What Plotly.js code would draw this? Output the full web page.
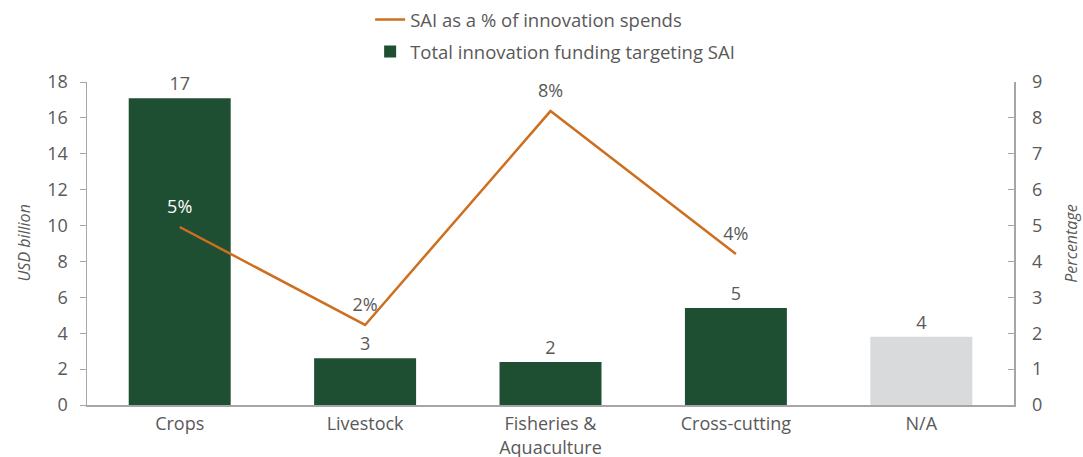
<!DOCTYPE html>
<html><head><meta charset="utf-8">
<script src="https://cdn.plot.ly/plotly-3.0.1.min.js"></script>
<style>body{margin:0;background:#fff}#c{width:1083px;height:457px}</style>
</head><body><div id="c"></div>
<script>
const categories = ["Crops", "Livestock", "Fisheries &<br>Aquaculture", "Cross-cutting", "N/A"];
const fundingUSDbn = [17.1, 2.6, 2.4, 5.4, 3.8];
const fundingLabels = ["17", "3", "2", "5", "4"];
const barColors = ["#1F4F33", "#1F4F33", "#1F4F33", "#1F4F33", "#D9DADC"];
const lineCategories = ["Crops", "Livestock", "Fisheries &<br>Aquaculture", "Cross-cutting"];
const saiPct = [4.96, 2.23, 8.19, 4.21];
const saiLabels = ["5%", "2%", "8%", "4%"];
const saiLabelColors = ["#FFFFFF", "#595959", "#595959", "#595959"];

const grey = "#595959";
const traces = [
  {
    type: "scatter", mode: "lines+markers+text", name: "SAI as a % of innovation spends",
    x: lineCategories, y: saiPct, yaxis: "y2",
    text: saiLabels, textposition: "top center",
    textfont: {size: 18, color: saiLabelColors, family: "Open Sans"},
    line: {color: "#CD6F1F", width: 2.5},
    marker: {size: 14, color: "rgba(0,0,0,0)"},
    cliponaxis: false, legendgroup: "a"
  },
  {
    type: "bar", name: "Total innovation funding targeting SAI",
    x: categories, y: fundingUSDbn,
    text: fundingLabels, textposition: "outside",
    textfont: {size: 18, color: grey, family: "Open Sans"},
    marker: {color: barColors}, width: 0.55,
    cliponaxis: false, legendgroup: "b"
  }
];
const layout = {
  width: 1083, height: 457,
  margin: {l: 87, r: 69, t: 82, b: 52, autoexpand: false},
  paper_bgcolor: "#fff", plot_bgcolor: "#fff",
  font: {family: "Open Sans", color: grey, size: 18},
  showlegend: true,
  legend: {x: 0.505, xanchor: "center", yref: "container", y: 0.998, yanchor: "top", orientation: "v",
           tracegroupgap: 5, itemwidth: 30, font: {size: 18.5, color: grey}, bgcolor: "rgba(0,0,0,0)"},
  xaxis: {showline: true, linecolor: "#A6A6A6", linewidth: 1.5, ticks: "", tickfont: {size: 18, color: grey},
          ticklabelstandoff: 2, showgrid: false, zeroline: false, fixedrange: true},
  yaxis: {range: [0, 18], dtick: 2, showline: true, linecolor: "#A6A6A6", linewidth: 1.5,
          ticks: "outside", ticklen: 6, tickcolor: "#A6A6A6", showgrid: false, zeroline: false,
          tickfont: {size: 18, color: grey}, ticklabelstandoff: 8},
  yaxis2: {range: [0, 9], dtick: 1, overlaying: "y", side: "right", showline: true, linecolor: "#A6A6A6", linewidth: 1.5,
          ticks: "inside", ticklen: 6, tickcolor: "#A6A6A6", showgrid: false, zeroline: false,
          tickfont: {size: 18, color: grey}, ticklabelstandoff: 13,
          title: {text: "Percentage", font: {size: 16, color: grey, style: "italic"}, standoff: 24}},
  annotations: [
    {text: "USD billion", xref: "paper", yref: "paper", x: -0.069, y: 0.5, xanchor: "center", yanchor: "middle",
     textangle: -90, showarrow: false, font: {size: 16, color: grey, style: "italic"}}
  ],
  bargap: 0.45
};
Plotly.newPlot("c", traces, layout, {displayModeBar: false, staticPlot: true});
</script></body></html>
